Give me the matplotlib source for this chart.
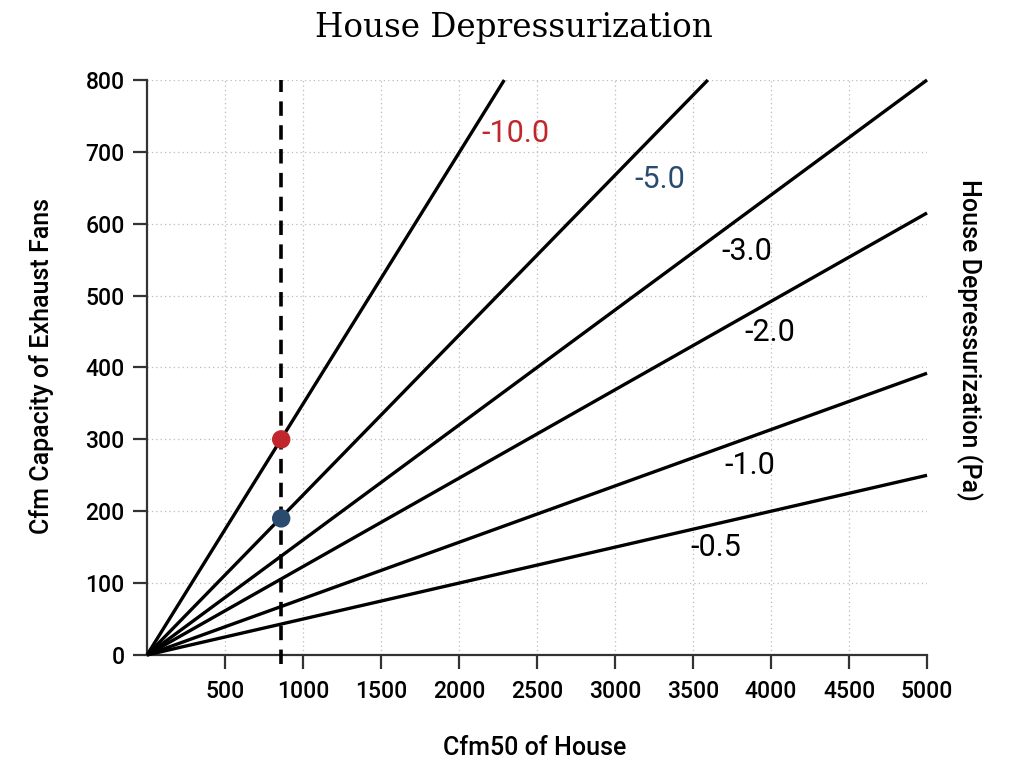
import matplotlib
matplotlib.use("Agg")
import matplotlib.pyplot as plt

# Data: each line runs from the origin to its end point
pressures = ["-10.0", "-5.0", "-3.0", "-2.0", "-1.0", "-0.5"]
x_end = [2290, 3595, 5000, 5000, 5000, 5000]
y_end = [800, 800, 800, 615, 392, 250]
label_x = [2360, 3285, 3845, 3990, 3865, 3645]
label_y = [726, 661, 561, 448, 264, 149]
label_colors = ["#c0272d", "#2b4a6f", "black", "black", "black", "black"]

marker_x = [860, 860]
marker_y = [300, 190]
marker_colors = ["#c0272d", "#2b4a6f"]
dashed_x = 860

x_ticks = [500, 1000, 1500, 2000, 2500, 3000, 3500, 4000, 4500, 5000]
y_ticks = [0, 100, 200, 300, 400, 500, 600, 700, 800]

fig = plt.figure(figsize=(10.24, 7.73), dpi=100)
ax = fig.add_axes([0.1436, 0.1527, 0.7617, 0.7438])

tick_font = "Roboto"

for xv in x_ticks[:-1]:
    ax.plot([xv, xv], [0, 800], color="#bbbbbb", lw=0.9, ls=(0, (1, 2.5)), zorder=1)
for yv in y_ticks[1:]:
    ax.plot([0, 5000], [yv, yv], color="#bbbbbb", lw=0.9, ls=(0, (1, 2.5)), zorder=1)

for xe, ye in zip(x_end, y_end):
    ax.plot([0, xe], [0, ye], color="black", lw=2.4, solid_capstyle="butt", zorder=3, clip_on=False)

ax.plot([dashed_x, dashed_x], [-12, 800], color="black", lw=2.6, ls=(0, (4, 2.6)), zorder=4, clip_on=False)

ax.scatter(marker_x, marker_y, s=150, c=marker_colors, zorder=5, clip_on=False)

for t, lx, ly, c in zip(pressures, label_x, label_y, label_colors):
    ax.text(lx, ly, t, color=c, fontsize=22, family=tick_font, ha="center", va="center", zorder=6)

ax.set_xlim(0, 5000)
ax.set_ylim(0, 800)
ax.set_xticks(x_ticks)
ax.set_yticks(y_ticks)
ax.set_xticklabels([str(v) for v in x_ticks], family=tick_font, fontsize=16.5, fontweight="medium")
ax.set_yticklabels([str(v) for v in y_ticks], family=tick_font, fontsize=16.5, fontweight="medium")
ax.tick_params(axis="both", direction="out", length=10, width=1.6, color="#333333", pad=6)
ax.tick_params(axis="x", pad=8)
for s in ["top", "right"]:
    ax.spines[s].set_visible(False)
for s in ["left", "bottom"]:
    ax.spines[s].set_linewidth(1.6)
    ax.spines[s].set_color("#333333")

fig.text(0.502, 0.964, "House Depressurization", ha="center", va="center",
         fontsize=23.5, family="DejaVu Serif")
fig.text(0.522, 0.032, "Cfm50 of House", ha="center", va="center", fontsize=18,
         family=tick_font, fontweight="medium")
fig.text(0.041, 0.527, "Cfm Capacity of Exhaust Fans", ha="center", va="center",
         rotation=90, fontsize=18, family=tick_font, fontweight="medium")
fig.text(0.947, 0.56, "House Depressurization (Pa)", ha="center", va="center",
         rotation=-90, fontsize=18, family=tick_font, fontweight="medium")

fig.savefig("out.png", dpi=100, facecolor="white")
